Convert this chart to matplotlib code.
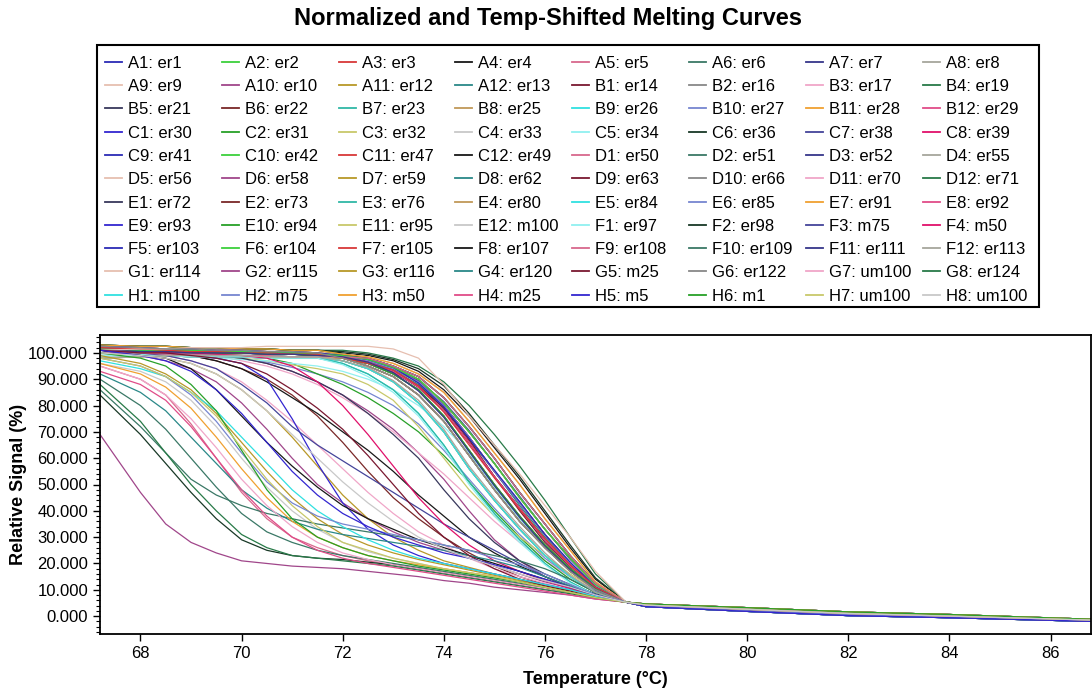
import matplotlib.pyplot as plt
from matplotlib.patches import Rectangle
from matplotlib.ticker import MultipleLocator, FormatStrFormatter

plt.rcParams['font.family'] = ['Liberation Sans', 'DejaVu Sans']

# temperature grid (deg C) shared by every well
temps = [67.2, 68, 68.5, 69, 69.5, 70, 70.5, 71, 71.5, 72, 72.5, 73, 73.5,
         74, 74.5, 75, 75.5, 76, 76.5, 77, 77.6, 78, 80, 82, 84, 86.8]

# sample names per plate row
names_a = ['er1', 'er2', 'er3', 'er4', 'er5', 'er6', 'er7', 'er8', 'er9', 'er10', 'er12', 'er13']
names_b = ['er14', 'er16', 'er17', 'er19', 'er21', 'er22', 'er23', 'er25', 'er26', 'er27', 'er28', 'er29']
names_c = ['er30', 'er31', 'er32', 'er33', 'er34', 'er36', 'er38', 'er39', 'er41', 'er42', 'er47', 'er49']
names_d = ['er50', 'er51', 'er52', 'er55', 'er56', 'er58', 'er59', 'er62', 'er63', 'er66', 'er70', 'er71']
names_e = ['er72', 'er73', 'er76', 'er80', 'er84', 'er85', 'er91', 'er92', 'er93', 'er94', 'er95', 'm100']
names_f = ['er97', 'er98', 'm75', 'm50', 'er103', 'er104', 'er105', 'er107', 'er108', 'er109', 'er111', 'er113']
names_g = ['er114', 'er115', 'er116', 'er120', 'm25', 'er122', 'um100', 'er124']
names_h = ['m100', 'm75', 'm50', 'm25', 'm5', 'm1', 'um100', 'um100']

# relative signal (%) per well
sig_a = [
    [101, 100.5, 100.5, 100, 100, 100, 99.5, 99.5, 99, 98, 96, 92, 86, 76, 63, 50, 38, 27, 18, 10.5, 5.3, 4.2, 2.6, 1.0, 0.0, -1.5],
    [102.5, 102, 101.5, 101.5, 101, 101, 100.5, 100.5, 100, 99, 97, 94, 89, 80, 68, 55, 43, 31, 20, 11.5, 5.3, 4.6, 3.2, 1.6, 0.6, -1.2],
    [101.5, 101, 101, 101, 100.5, 100.5, 100, 100, 99.5, 98.5, 96.5, 93, 87, 78, 66, 53, 41, 29, 19, 11, 5.3, 3.8, 2.0, 0.6, -0.4, -1.8],
    [103, 102.5, 102.5, 102, 102, 101.5, 101.5, 101, 101, 100, 99, 97, 93, 86, 76, 64, 52, 39, 26, 14, 5.3, 4.4, 2.9, 1.3, 0.3, -1.4],
    [95, 90, 84, 73, 60, 47, 37, 30, 26, 23, 21, 19.5, 18, 16.5, 15, 13.5, 12, 10.5, 9, 7, 5.3, 3.8, 2.0, 0.6, -0.4, -1.8],
    [99, 99, 99, 98.5, 98.5, 98.5, 98, 98, 98, 98, 95, 91, 84, 74, 61, 48, 36, 26, 17, 10, 5.3, 3.6, 1.8, 0.2, -0.6, -2.0],
    [102, 101.5, 101, 100.5, 100.5, 100, 100, 99.5, 99.5, 99, 97.5, 94.5, 90, 81, 70, 58, 45, 33, 22, 12, 5.3, 4.2, 2.6, 1.0, 0.0, -1.5],
    [100, 100, 99.5, 99.5, 99, 99, 99, 98.5, 98.5, 98.5, 98, 95, 91, 83, 72, 60, 47, 35, 23, 12.5, 5.3, 4.6, 3.2, 1.6, 0.6, -1.2],
    [102.5, 102, 101.5, 101.5, 101, 101, 100.5, 100.5, 100, 99.5, 98.5, 96, 92, 85, 74, 62, 50, 37, 25, 13, 5.3, 3.8, 2.0, 0.6, -0.4, -1.8],
    [101, 101, 100.5, 100, 99, 98, 96, 93, 89, 84, 78, 71, 62, 52, 40, 29, 21, 15, 11, 8, 5.3, 4.4, 2.9, 1.3, 0.3, -1.4],
    [98, 98.5, 99, 99, 99, 99, 98.5, 98.5, 98.5, 97, 94, 89, 81, 70, 56, 44, 33, 23, 15, 9, 5.3, 4.4, 2.9, 1.3, 0.3, -1.4],
    [101, 100.5, 100.5, 100, 100, 100, 99.5, 99.5, 99, 98.5, 96.5, 93.5, 88, 79, 67, 55, 42, 30, 20, 11, 5.3, 3.6, 1.8, 0.2, -0.6, -2.0],
]
sig_b = [
    [101.5, 101, 101, 101, 100.5, 100.5, 100, 100, 99.5, 98, 96, 92.5, 87.5, 79, 67, 53, 40, 28, 18.5, 10.5, 5.3, 4.2, 2.6, 1.0, 0.0, -1.5],
    [100, 100, 99.5, 99.5, 99, 99, 99, 98.5, 98.5, 98, 96, 92, 86, 76, 63, 50, 38, 27, 18, 10.5, 5.3, 4.6, 3.2, 1.6, 0.6, -1.2],
    [101, 100.5, 100, 99.5, 99, 97, 95, 92, 88, 83, 77, 70, 62, 54, 45, 36, 28, 21, 15, 10, 5.3, 4.6, 3.2, 1.6, 0.6, -1.2],
    [103, 102.5, 102.5, 102, 102, 101.5, 101.5, 101, 101, 101, 100, 98, 95, 89, 80, 69, 57, 44, 30, 16, 5.3, 3.8, 2.0, 0.6, -0.4, -1.8],
    [102, 101.5, 101, 100.5, 100.5, 100, 100, 99.5, 99.5, 98, 95, 91, 84, 74, 61, 48, 36, 26, 17, 10, 5.3, 4.4, 2.9, 1.3, 0.3, -1.4],
    [101, 100, 99.5, 99, 97, 94, 90, 84, 76, 66, 55, 45, 37, 30, 24, 19, 15, 12, 9.5, 7, 5.3, 4.2, 2.6, 1.0, 0.0, -1.5],
    [99, 99, 99, 98.5, 98.5, 98.5, 98, 98, 98, 97, 94, 89, 81, 70, 56, 44, 33, 23, 15, 9, 5.3, 3.6, 1.8, 0.2, -0.6, -2.0],
    [102.5, 102, 101.5, 101.5, 101, 101, 100.5, 100.5, 100, 99.5, 98, 95, 91, 83, 72, 60, 47, 35, 23, 12.5, 5.3, 4.2, 2.6, 1.0, 0.0, -1.5],
    [100, 100, 99.5, 99.5, 99, 99, 99, 98.5, 98.5, 96, 92, 86, 77, 65, 51, 39, 29, 20, 13, 8, 5.3, 4.6, 3.2, 1.6, 0.6, -1.2],
    [101, 100.5, 100, 99.5, 99, 98, 96.5, 94.5, 92, 89, 85, 80, 73, 63, 52, 41, 31, 22, 15, 9.5, 5.3, 4.4, 2.9, 1.3, 0.3, -1.4],
    [101, 100.5, 100.5, 100, 100, 100, 99.5, 99.5, 99, 99, 97.5, 94.5, 90, 81, 70, 58, 45, 33, 22, 12, 5.3, 3.8, 2.0, 0.6, -0.4, -1.8],
    [101.5, 101, 101, 101, 100.5, 100.5, 100, 100, 99.5, 99, 97, 94, 89, 80, 68, 55, 43, 31, 20, 11.5, 5.3, 4.4, 2.9, 1.3, 0.3, -1.4],
]
sig_c = [
    [102, 101.5, 101, 100.5, 100.5, 100, 100, 99.5, 99.5, 98.5, 96.5, 93, 87, 78, 66, 53, 41, 29, 19, 11, 5.3, 3.6, 1.8, 0.2, -0.6, -2.0],
    [101, 101, 100.5, 100, 99.5, 99, 98, 96, 92, 88, 83, 77, 70, 61, 51, 40, 30, 21, 14, 9, 5.3, 4.2, 2.6, 1.0, 0.0, -1.5],
    [100, 100, 99.5, 99, 98.5, 98, 97, 95.5, 94, 92, 88, 82, 72, 60, 48, 38, 30, 23, 16, 10, 5.3, 4.6, 3.2, 1.6, 0.6, -1.2],
    [98, 98.5, 99, 99, 99, 99, 98.5, 98.5, 98.5, 98, 96, 92, 86, 76, 63, 50, 38, 27, 18, 10.5, 5.3, 4.2, 2.6, 1.0, 0.0, -1.5],
    [100, 99.5, 99, 98.5, 98, 97.5, 97, 96, 95, 93, 90, 86, 80, 72, 62, 49, 37, 26, 17, 10, 5.3, 3.8, 2.0, 0.6, -0.4, -1.8],
    [103, 102.5, 102.5, 102, 102, 101.5, 101.5, 101, 101, 100.5, 99.5, 97.5, 94, 87.5, 77, 65, 53, 40, 27, 14.5, 5.3, 4.6, 3.2, 1.6, 0.6, -1.2],
    [101, 100.5, 100.5, 100, 100, 100, 99.5, 99.5, 99, 99, 97, 94, 89.5, 81.5, 70.5, 58, 45.5, 33, 21.5, 12, 5.3, 3.8, 2.0, 0.6, -0.4, -1.8],
    [102.5, 102, 101.5, 101.5, 101, 101, 100.5, 100.5, 100, 99, 97, 94, 89, 80, 68, 55, 43, 31, 20, 11.5, 5.3, 4.4, 2.9, 1.3, 0.3, -1.4],
    [101.5, 101, 101, 101, 100.5, 100.5, 100, 100, 99.5, 99.5, 98, 95, 91, 83, 72, 60, 47, 35, 23, 12.5, 5.3, 3.6, 1.8, 0.2, -0.6, -2.0],
    [102, 101.5, 101, 100.5, 100.5, 100, 100, 99.5, 99.5, 98, 96, 92, 86, 76, 63, 50, 38, 27, 18, 10.5, 5.3, 4.2, 2.6, 1.0, 0.0, -1.5],
    [100, 100, 99.5, 99.5, 99, 99, 99, 98.5, 98.5, 98.5, 96.5, 93, 87, 78, 66, 53, 41, 29, 19, 11, 5.3, 4.6, 3.2, 1.6, 0.6, -1.2],
    [102, 101, 100, 99, 97, 94, 89, 83, 77, 70, 63, 55, 46, 38, 30, 24, 19, 15, 11, 8, 5.3, 3.8, 2.0, 0.6, -0.4, -1.8],
]
sig_d = [
    [99, 99, 99, 98.5, 98.5, 98.5, 98, 98, 98, 98, 95, 91, 84, 74, 61, 48, 36, 26, 17, 10, 5.3, 3.8, 2.0, 0.6, -0.4, -1.8],
    [90, 80, 71, 60, 49, 39, 32, 28, 25, 23, 21.5, 20, 18.5, 17, 15.5, 14, 12.5, 11, 9, 7, 5.3, 3.6, 1.8, 0.2, -0.6, -2.0],
    [101, 100.5, 100.5, 100, 100, 100, 99.5, 99.5, 99, 99, 97, 94, 89, 80, 68, 55, 43, 31, 20, 11.5, 5.3, 4.4, 2.9, 1.3, 0.3, -1.4],
    [98, 98.5, 99, 99, 99, 99, 98.5, 98.5, 98.5, 97, 94, 89, 81, 70, 56, 44, 33, 23, 15, 9, 5.3, 3.6, 1.8, 0.2, -0.6, -2.0],
    [102.5, 102, 101.5, 101.5, 101, 101, 100.5, 100.5, 100, 99.5, 98.5, 96, 92, 85, 74, 62, 50, 37, 25, 13, 5.3, 4.2, 2.6, 1.0, 0.0, -1.5],
    [100, 99, 97, 94, 89, 81, 71, 60, 50, 43, 37, 32, 28, 25, 22, 19, 16, 13, 10.5, 7.5, 5.3, 4.6, 3.2, 1.6, 0.6, -1.2],
    [100, 99, 98, 96, 92, 86, 78, 68, 57, 46, 37, 30, 25, 21, 18.5, 16, 14, 12, 10, 7.5, 5.3, 4.4, 2.9, 1.3, 0.3, -1.4],
    [101.5, 101, 101, 101, 100.5, 100.5, 100, 100, 99.5, 99, 97.5, 94.5, 90, 81, 70, 58, 45, 33, 22, 12, 5.3, 4.6, 3.2, 1.6, 0.6, -1.2],
    [102, 101.5, 101, 100.5, 100.5, 100, 100, 99.5, 99.5, 98.5, 96.5, 93, 87, 78, 66, 53, 41, 29, 19, 11, 5.3, 3.8, 2.0, 0.6, -0.4, -1.8],
    [100, 100, 99.5, 99.5, 99, 99, 99, 98.5, 98.5, 98, 96, 92, 86, 76, 63, 50, 38, 27, 18, 10.5, 5.3, 4.4, 2.9, 1.3, 0.3, -1.4],
    [101, 100, 99, 97, 94, 89, 82, 74, 65, 56, 47, 39, 32, 27, 22, 18, 15, 12.5, 10, 7.5, 5.3, 4.2, 2.6, 1.0, 0.0, -1.5],
    [103, 102.5, 102.5, 102, 102, 101.5, 101.5, 101, 101, 99.5, 98, 95, 91, 83, 72, 60, 47, 35, 23, 12.5, 5.3, 3.6, 1.8, 0.2, -0.6, -2.0],
]
sig_e = [
    [101, 100.5, 100, 99.5, 99, 98, 96, 93, 89, 84, 77, 69, 60, 48, 37, 28, 21, 16, 12, 8.5, 5.3, 3.6, 1.8, 0.2, -0.6, -2.0],
    [101, 100.5, 100.5, 100, 100, 100, 99.5, 99.5, 99, 98, 95, 91, 84, 74, 61, 48, 36, 26, 17, 10, 5.3, 4.2, 2.6, 1.0, 0.0, -1.5],
    [99, 99, 99, 98.5, 98.5, 98.5, 98, 98, 98, 96, 92, 86, 77, 65, 51, 39, 29, 20, 13, 8, 5.3, 4.6, 3.2, 1.6, 0.6, -1.2],
    [102.5, 102, 101.5, 101.5, 101, 101, 100.5, 100.5, 100, 99, 97.5, 94.5, 90, 81, 70, 58, 45, 33, 22, 12, 5.3, 3.8, 2.0, 0.6, -0.4, -1.8],
    [100, 100, 99.5, 99.5, 99, 99, 99, 98.5, 98.5, 97, 94, 89, 81, 70, 56, 44, 33, 23, 15, 9, 5.3, 4.4, 2.9, 1.3, 0.3, -1.4],
    [101.5, 101, 101, 101, 100.5, 100.5, 100, 100, 99.5, 99, 97, 94, 89, 80, 68, 55, 43, 31, 20, 11.5, 5.3, 3.6, 1.8, 0.2, -0.6, -2.0],
    [103, 102.5, 102.5, 102, 102, 101.5, 101.5, 101, 101, 99.5, 98.5, 96, 92, 85, 74, 62, 50, 37, 25, 13, 5.3, 4.2, 2.6, 1.0, 0.0, -1.5],
    [102, 101.5, 101, 100.5, 100.5, 100, 100, 99.5, 99.5, 98.5, 96.5, 93, 87, 78, 66, 53, 41, 29, 19, 11, 5.3, 4.6, 3.2, 1.6, 0.6, -1.2],
    [101, 101, 100, 99, 98, 96, 90, 75, 58, 43, 33, 27, 23, 20, 18, 16, 14, 12, 10, 7.5, 5.3, 3.6, 1.8, 0.2, -0.6, -2.0],
    [101, 100.5, 100.5, 100, 100, 100, 99.5, 99.5, 99, 98, 96, 92, 86, 76, 63, 50, 38, 27, 18, 10.5, 5.3, 3.8, 2.0, 0.6, -0.4, -1.8],
    [98, 98.5, 99, 99, 99, 99, 98.5, 98.5, 98.5, 98, 95, 91, 84, 74, 61, 48, 36, 26, 17, 10, 5.3, 4.4, 2.9, 1.3, 0.3, -1.4],
    [96, 93, 89, 82, 72, 60, 49, 40, 33, 28, 24.5, 22, 20, 18, 16.5, 15, 13, 11, 9, 7, 5.3, 4.6, 3.2, 1.6, 0.6, -1.2],
]
sig_f = [
    [99, 99, 99, 98.5, 98.5, 98.5, 98, 98, 98, 95.5, 91, 85, 76, 64, 50, 38, 28, 19.5, 12.5, 8, 5.3, 3.6, 1.8, 0.2, -0.6, -2.0],
    [84, 69, 58, 47, 37, 29, 25, 23, 22, 21.5, 20.5, 19.5, 18, 16.5, 15, 13.5, 12, 10.5, 9, 7, 5.3, 3.8, 2.0, 0.6, -0.4, -1.8],
    [101, 100, 99, 97, 94, 88, 81, 72, 65, 59, 53, 47, 41, 35, 30, 25, 20, 15, 11, 8, 5.3, 4.4, 2.9, 1.3, 0.3, -1.4],
    [101, 100.5, 100, 100, 99.5, 99, 98, 95, 89, 80, 69, 57, 45, 35, 27, 21, 17, 13.5, 10.5, 7.5, 5.3, 4.6, 3.2, 1.6, 0.6, -1.2],
    [102.5, 102, 101.5, 101.5, 101, 101, 100.5, 100.5, 100, 99, 97.5, 94.5, 88.5, 79.5, 67.5, 55.5, 43.5, 31, 20.5, 11, 5.3, 4.2, 2.6, 1.0, 0.0, -1.5],
    [101.5, 101, 101, 101, 100.5, 100.5, 100, 100, 99.5, 99, 97.5, 94.5, 90, 81, 70, 58, 45, 33, 22, 12, 5.3, 4.6, 3.2, 1.6, 0.6, -1.2],
    [102, 101.5, 101, 100.5, 100.5, 100, 100, 99.5, 99.5, 98, 96, 93.5, 87.5, 77.5, 65, 52.5, 40.5, 29.5, 19.5, 11, 5.3, 3.8, 2.0, 0.6, -0.4, -1.8],
    [101, 99, 98, 94, 86, 76, 66, 57, 49, 42, 37, 33, 29, 26, 23, 20, 17, 14, 11, 8, 5.3, 4.2, 2.6, 1.0, 0.0, -1.5],
    [100, 100, 99.5, 99.5, 99, 99, 99, 98.5, 98.5, 98.5, 98, 95, 91, 83, 72, 60, 47, 35, 23, 12.5, 5.3, 4.4, 2.9, 1.3, 0.3, -1.4],
    [86, 72, 62, 52, 46, 42, 39, 37, 35, 33.5, 32, 30.5, 29, 27, 25, 23, 21, 18, 14, 9, 5.3, 4.4, 2.9, 1.3, 0.3, -1.4],
    [101, 100.5, 100.5, 100, 100, 100, 99.5, 99.5, 99, 98.5, 96.5, 92.5, 85.5, 75.5, 62.5, 49.5, 37.5, 26.5, 17.5, 10, 5.3, 3.6, 1.8, 0.2, -0.6, -2.0],
    [98, 98.5, 99, 99, 99, 99, 98.5, 98.5, 98.5, 97, 94.5, 89.5, 82, 71, 57, 45, 34, 24, 15.5, 9, 5.3, 4.2, 2.6, 1.0, 0.0, -1.5],
]
sig_g = [
    [101, 101.5, 101.5, 102, 102, 102, 102.5, 102.5, 102.5, 102.5, 102.5, 101.5, 98, 88, 76, 65, 54, 42, 30, 17, 5.3, 4.6, 3.2, 1.6, 0.6, -1.2],
    [69, 47, 35, 28, 24, 21, 20, 19, 18.5, 18, 17, 16, 15, 13.5, 12.5, 11, 10, 9, 8, 6.5, 5.3, 4.2, 2.6, 1.0, 0.0, -1.5],
    [99, 96, 92, 86, 77, 66, 55, 45, 37, 31, 27, 24, 21.5, 19.5, 17.5, 15.5, 13.5, 11.5, 9.5, 7.5, 5.3, 4.4, 2.9, 1.3, 0.3, -1.4],
    [92, 85, 78, 68, 58, 48, 41, 36, 33, 31, 29.5, 28, 26.5, 25, 23, 21, 18.5, 15, 11.5, 8, 5.3, 4.4, 2.9, 1.3, 0.3, -1.4],
    [101, 100, 100, 99, 98, 96, 92, 86, 79, 71, 61, 50, 39, 30, 23, 18, 14, 11.5, 9.5, 7, 5.3, 3.8, 2.0, 0.6, -0.4, -1.8],
    [102.5, 102, 101.5, 101.5, 101, 101, 100.5, 100.5, 100, 98, 95, 91, 84, 74, 61, 48, 36, 26, 17, 10, 5.3, 3.8, 2.0, 0.6, -0.4, -1.8],
    [95, 90, 84, 75, 64, 52, 42, 34, 28, 24, 21.5, 19.5, 18, 16.5, 15, 13.5, 12, 10.5, 9, 7, 5.3, 4.2, 2.6, 1.0, 0.0, -1.5],
    [88, 74, 62, 50, 40, 31, 26, 23, 22, 21, 20, 19, 17.5, 16, 14.5, 13, 11.5, 10, 8.5, 7, 5.3, 4.6, 3.2, 1.6, 0.6, -1.2],
]
sig_h = [
    [97, 94, 91, 85, 78, 68, 58, 48, 40, 34, 29, 25, 22, 20, 18, 16, 14, 12, 10, 7.5, 5.3, 4.2, 2.6, 1.0, 0.0, -1.5],
    [98, 95, 91, 84, 74, 62, 51, 43, 38, 35, 33, 31, 29, 27, 25, 22, 19.5, 16, 12, 8, 5.3, 3.8, 2.0, 0.6, -0.4, -1.8],
    [96, 92, 87, 79, 68, 56, 45, 36, 30, 26, 23, 21, 19.5, 18, 16.5, 15, 13, 11, 9, 7, 5.3, 4.6, 3.2, 1.6, 0.6, -1.2],
    [93, 88, 82, 72, 60, 48, 38, 30, 25, 22, 20, 18.5, 17, 15.5, 14, 12.5, 11, 9.5, 8, 6.5, 5.3, 4.2, 2.6, 1.0, 0.0, -1.5],
    [101, 99, 97, 93, 86, 77, 66, 55, 46, 39, 34, 30, 27, 24, 22, 19.5, 17, 14, 11, 8, 5.3, 3.6, 1.8, 0.2, -0.6, -2.0],
    [100, 98, 95, 88, 78, 63, 48, 37, 30, 26, 23, 21, 19, 17.5, 16, 14.5, 13, 11, 9, 7, 5.3, 4.6, 3.2, 1.6, 0.6, -1.2],
    [98, 95, 91, 85, 76, 64, 52, 42, 34, 28, 25, 22, 20, 18, 16.5, 15, 13, 11, 9, 7, 5.3, 4.2, 2.6, 1.0, 0.0, -1.5],
    [100, 99, 98, 96, 92, 86, 78, 69, 60, 51, 43, 36, 30, 25.5, 22, 19, 16, 13.5, 11, 8, 5.3, 4.2, 2.6, 1.0, 0.0, -1.5],
]

# instrument colour cycle, indexed by plate position (96-well order)
palette = ['#2b2bb5', '#3cd03c', '#d83838', '#181818', '#d8688c', '#3a7866', '#36368a', '#a6a69c',
           '#e6bfb0', '#a0468a', '#b89828', '#2a8888', '#7a1830', '#888888', '#f0a6c8', '#287a48',
           '#38385c', '#7a2828', '#30b8a6', '#c09858', '#30e0e0', '#7686d0', '#f0a030', '#e04c88',
           '#3326d0', '#28a028', '#c8c86a', '#c8c8c8', '#90f0f0', '#183826', '#44449a', '#e0106a']

rows = [('A', names_a, sig_a), ('B', names_b, sig_b), ('C', names_c, sig_c),
        ('D', names_d, sig_d), ('E', names_e, sig_e), ('F', names_f, sig_f),
        ('G', names_g, sig_g), ('H', names_h, sig_h)]

fig = plt.figure(figsize=(10.92, 6.93), dpi=100)
ax = fig.add_axes([100 / 1092, 1 - 634 / 693, 991 / 1092, 299 / 693])

entries = []
for r, (letter, names, curves) in enumerate(rows):
    for c, (name, vals) in enumerate(zip(names, curves)):
        assert len(vals) == len(temps), (letter, c + 1)
        color = palette[(r * 12 + c) % 32]
        ax.plot(temps, vals, color=color, lw=0.9)
        entries.append((f'{letter}{c + 1}: {name}', color))

ax.set_xlim(67.2, 86.8)
ax.set_ylim(-6.8, 106.8)
ax.xaxis.set_major_locator(MultipleLocator(2))
ax.yaxis.set_major_locator(MultipleLocator(10))
ax.yaxis.set_minor_locator(MultipleLocator(2))
ax.yaxis.set_major_formatter(FormatStrFormatter('%.3f'))
ax.tick_params(labelsize=12, direction='out', length=5, width=1)
ax.tick_params(axis='y', which='minor', length=3, width=0.8)
ax.set_xlabel('Temperature (°C)', fontsize=13, fontweight='bold')
ax.set_ylabel('Relative Signal (%)', fontsize=13, fontweight='bold')
ax.xaxis.set_label_coords(0.5, -0.125)
ax.yaxis.set_label_coords(-0.074, 0.5)
for s in ax.spines.values():
    s.set_linewidth(1.3)

# title and boxed legend laid out in pixel coordinates
lax = fig.add_axes([0, 0, 1, 1])
lax.set_xlim(0, 1092)
lax.set_ylim(693, 0)
lax.axis('off')
lax.text(548, 18, 'Normalized and Temp-Shifted Melting Curves',
         ha='center', va='center', fontsize=17, fontweight='bold')
lax.add_patch(Rectangle((97, 45), 942, 262, fill=False, lw=1.5, ec='black'))
for k, (label, color) in enumerate(entries):
    x0 = 105 + 116.8 * (k % 8)
    y0 = 61.7 + 23.3 * (k // 8)
    lax.plot([x0, x0 + 17], [y0, y0], color=color, lw=1.3)
    lax.text(x0 + 23, y0 + 6, label, fontsize=12, ha='left', va='baseline')

fig.savefig('out.png', dpi=100)
